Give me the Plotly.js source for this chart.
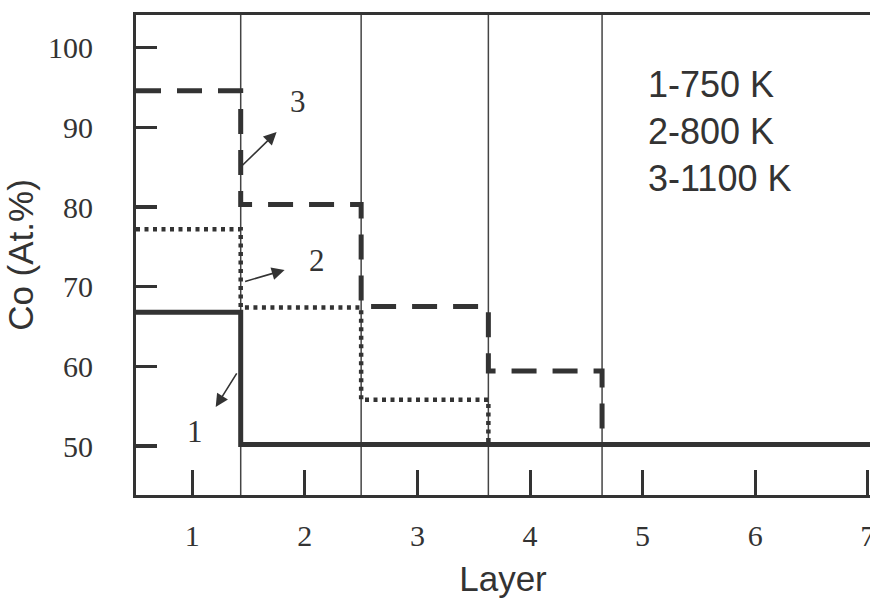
<!DOCTYPE html>
<html>
<head>
<meta charset="utf-8">
<script src="https://cdn.plot.ly/plotly-3.0.1.min.js"></script>
<style>html,body{margin:0;padding:0;background:#fff;overflow:hidden;}#chart{width:870px;height:606px;}</style>
</head>
<body>
<div id="chart"></div>
<script>
// Layer boundaries (in layer units)
const boundaries = [1.43, 2.5, 3.63, 4.64];
// Step profiles: x edges and Co (At.%) values
const s1x = [0.5, 1.43, 1.43, 7.05];
const s1y = [66.8, 66.8, 50.2, 50.2];
const s2x = [0.5, 1.43, 1.43, 2.5, 2.5, 3.63, 3.63];
const s2y = [77.2, 77.2, 67.4, 67.4, 55.8, 55.8, 50.2];
const s3x = [0.5, 1.43, 1.43, 2.5, 2.5, 3.63, 3.63, 4.64, 4.64];
const s3y = [94.6, 94.6, 80.3, 80.3, 67.5, 67.5, 59.4, 59.4, 50.2];
const xTicks = [1, 2, 3, 4, 5, 6, 7];
const yTicks = [50, 60, 70, 80, 90, 100];
const legendLines = ["1-750 K", "2-800 K", "3-1100 K"];
const curveLabels = ["1", "2", "3"];

const ink = '#333333';
const traces = [
  {x: s1x, y: s1y, mode: 'lines', line: {color: ink, width: 5}, hoverinfo: 'skip'},
  {x: s2x, y: s2y, mode: 'lines', line: {color: ink, width: 4.5, dash: '4px,4.5px'}, hoverinfo: 'skip'},
  {x: s3x, y: s3y, mode: 'lines', line: {color: ink, width: 5, dash: '25px,16px'}, hoverinfo: 'skip'}
];

const shapes = boundaries.map(b => ({
  type: 'line', xref: 'x', yref: 'paper', x0: b, x1: b, y0: 0, y1: 1,
  line: {color: '#444', width: 1.5}, layer: 'below'
}));

const labelFont = {family: 'Liberation Serif, Times New Roman, serif', size: 31, color: ink};
const annotations = [
  {x: 1.022, y: 51.8, text: curveLabels[0], showarrow: false, font: labelFont},
  {x: 2.112, y: 73.3, text: curveLabels[1], showarrow: false, font: labelFont},
  {x: 1.935, y: 93.3, text: curveLabels[2], showarrow: false, font: labelFont},
  // arrows (head at x,y; tail at ax,ay)
  {x: 1.208, y: 54.9, ax: 1.403, ay: 59.3, axref: 'x', ayref: 'y', text: '', showarrow: true,
   arrowhead: 2, arrowsize: 1.6, arrowwidth: 1.6, arrowcolor: ink},
  {x: 1.820, y: 72.1, ax: 1.456, ay: 70.6, axref: 'x', ayref: 'y', text: '', showarrow: true,
   arrowhead: 2, arrowsize: 1.6, arrowwidth: 1.6, arrowcolor: ink},
  {x: 1.749, y: 89.4, ax: 1.421, ay: 84.9, axref: 'x', ayref: 'y', text: '', showarrow: true,
   arrowhead: 2, arrowsize: 1.6, arrowwidth: 1.6, arrowcolor: ink},
  {xref: 'paper', yref: 'paper', x: (646 - 136) / 734, y: (495 - 62) / 480, xanchor: 'left', yanchor: 'top',
   align: 'left', showarrow: false, text: legendLines.join('<br>'),
   font: {family: 'Liberation Sans, Arial, sans-serif', size: 36, color: ink}}
];

const layout = {
  width: 870, height: 606,
  margin: {l: 136, r: 0, t: 15, b: 111},
  paper_bgcolor: '#fff', plot_bgcolor: '#fff',
  showlegend: false,
  xaxis: {
    range: [0.5, 7.02], tickvals: xTicks, ticktext: xTicks.map(String),
    showgrid: false, zeroline: false,
    showline: true, linecolor: ink, linewidth: 3, mirror: true,
    ticks: 'inside', ticklen: 25, tickwidth: 3, tickcolor: ink,
    ticklabelstandoff: 12, ticklabeloverflow: 'allow',
    tickfont: {family: 'Liberation Serif, Times New Roman, serif', size: 30, color: ink},
    title: {text: 'Layer', standoff: 16, font: {family: 'Liberation Sans, Arial, sans-serif', size: 35, color: ink}}
  },
  yaxis: {
    range: [43.85, 104.1], tickvals: yTicks, ticktext: yTicks.map(String),
    showgrid: false, zeroline: false,
    showline: true, linecolor: ink, linewidth: 3, mirror: false,
    ticks: 'inside', ticklen: 21, tickwidth: 3.5, tickcolor: ink,
    ticklabelstandoff: 34,
    tickfont: {family: 'Liberation Serif, Times New Roman, serif', size: 30, color: ink},
    title: {text: 'Co (At.%)', standoff: 4, font: {family: 'Liberation Sans, Arial, sans-serif', size: 35, color: ink}}
  },
  shapes: shapes,
  annotations: annotations
};

Plotly.newPlot('chart', traces, layout, {staticPlot: true, displayModeBar: false});
</script>
</body>
</html>
